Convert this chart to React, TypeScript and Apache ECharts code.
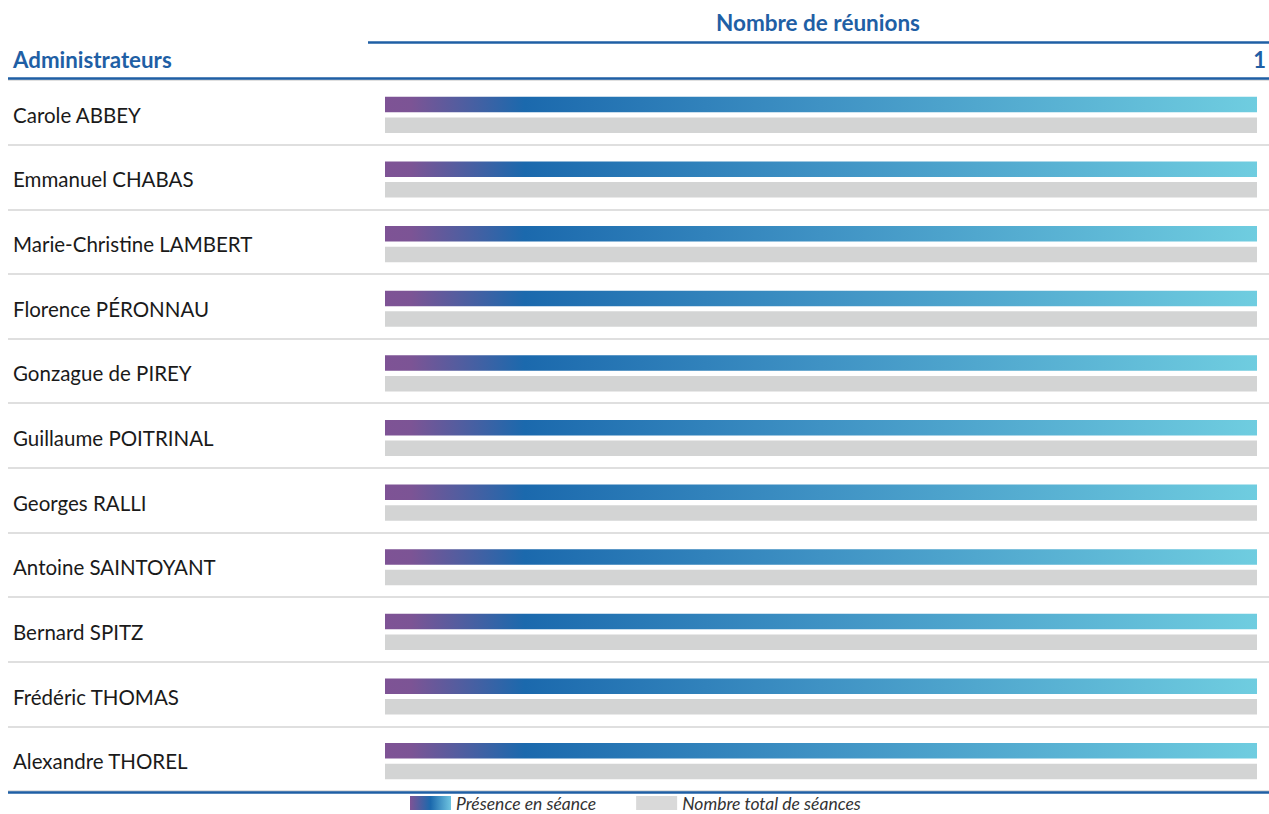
import React, { useEffect, useRef } from "react";
import * as echarts from "echarts";

const administrators = [
  "Carole ABBEY",
  "Emmanuel CHABAS",
  "Marie-Christine LAMBERT",
  "Florence PÉRONNAU",
  "Gonzague de PIREY",
  "Guillaume POITRINAL",
  "Georges RALLI",
  "Antoine SAINTOYANT",
  "Bernard SPITZ",
  "Frédéric THOMAS",
  "Alexandre THOREL",
];
const presence = [1, 1, 1, 1, 1, 1, 1, 1, 1, 1, 1];
const totalSeances = [1, 1, 1, 1, 1, 1, 1, 1, 1, 1, 1];
const maxMeetings = 1;
const headerTitle = "Nombre de réunions";
const columnTitle = "Administrateurs";
const seriesNames = ["Présence en séance", "Nombre total de séances"];

const BLUE = "#1f5fa5";
const FONT = "Lato, 'Noto Sans', sans-serif";

export default function App() {
  const ref = useRef<HTMLDivElement>(null);
  useEffect(() => {
    if (!ref.current) return;
    const chart = echarts.init(ref.current, undefined, { renderer: "svg" });
    const grad = new echarts.graphic.LinearGradient(0, 0, 1, 0, [
      { offset: 0, color: "#7e5395" },
      { offset: 0.03, color: "#7c5495" },
      { offset: 0.16, color: "#1b69ad" },
      { offset: 0.5, color: "#3f92c4" },
      { offset: 1, color: "#6fcde0" },
    ]);
    const legendGrad = new echarts.graphic.LinearGradient(0, 0, 1, 0, [
      { offset: 0, color: "#7e5395" },
      { offset: 0.5, color: "#1b69ad" },
      { offset: 1, color: "#6fc4e0" },
    ]);
    chart.setOption({
      animation: false,
      backgroundColor: "#fff",
      textStyle: { fontFamily: FONT },
      legend: {
        left: 410,
        top: 794,
        padding: 0,
        itemWidth: 41,
        itemHeight: 14,
        itemGap: 40,
        icon: "rect",
        textStyle: {
          fontSize: 17.5,
          lineHeight: 18,
          fontStyle: "italic",
          color: "#333",
          fontFamily: FONT,
        },
        data: [
          { name: seriesNames[0], itemStyle: { color: legendGrad } },
          { name: seriesNames[1], itemStyle: { color: "#d9d9d9" } },
        ],
        selectedMode: false,
      },
      grid: [
        { left: 385, right: 12, top: 82.5, bottom: 20.5 },
        { left: 8, right: 0, top: 80, bottom: 23 },
      ],
      xAxis: [
        { gridIndex: 0, type: "value", min: 0, max: maxMeetings, show: false },
        { gridIndex: 1, type: "value", min: 0, max: 1, show: false },
      ],
      yAxis: [
        {
          gridIndex: 0,
          type: "category",
          inverse: true,
          data: administrators,
          axisLine: { show: false },
          axisTick: { show: false },
          splitLine: { show: false },
          axisLabel: {
            align: "left",
            margin: 372,
            fontSize: 20.5,
            color: "#1a1a1a",
            fontFamily: FONT,
          },
        },
        {
          gridIndex: 1,
          type: "category",
          inverse: true,
          data: administrators,
          axisLine: { show: false },
          axisTick: { show: false },
          axisLabel: { show: false },
          splitLine: { show: true, lineStyle: { color: "#d4d4d4", width: 1.5 } },
        },
      ],
      series: [
        {
          name: seriesNames[0],
          type: "bar",
          xAxisIndex: 0,
          yAxisIndex: 0,
          data: presence,
          barWidth: 15.5,
          barGap: "33%",
          itemStyle: { color: grad },
        },
        {
          name: seriesNames[1],
          type: "bar",
          xAxisIndex: 0,
          yAxisIndex: 0,
          data: totalSeances,
          barWidth: 15.5,
          barGap: "33%",
          itemStyle: { color: "#d3d4d4" },
        },
      ],
      graphic: [
        {
          type: "text",
          x: 818,
          y: 22,
          style: {
            text: headerTitle,
            fontSize: 22.5,
            fontWeight: "bold",
            fill: BLUE,
            fontFamily: FONT,
            align: "center",
            verticalAlign: "middle",
          },
        },
        {
          type: "line",
          z: 100,
          shape: { x1: 368, y1: 42.5, x2: 1269, y2: 42.5 },
          style: { stroke: BLUE, lineWidth: 2.5 },
        },
        {
          type: "text",
          x: 13,
          y: 59,
          style: {
            text: columnTitle,
            fontSize: 22.3,
            fontWeight: "bold",
            fill: BLUE,
            fontFamily: FONT,
            align: "left",
            verticalAlign: "middle",
          },
        },
        {
          type: "text",
          x: 1266,
          y: 59,
          style: {
            text: String(maxMeetings),
            fontSize: 22,
            fontWeight: "bold",
            fill: BLUE,
            fontFamily: FONT,
            align: "right",
            verticalAlign: "middle",
          },
        },
        {
          type: "line",
          z: 100,
          shape: { x1: 8, y1: 78.5, x2: 1269, y2: 78.5 },
          style: { stroke: BLUE, lineWidth: 2.5 },
        },
        {
          type: "line",
          z: 100,
          shape: { x1: 8, y1: 792.5, x2: 1269, y2: 792.5 },
          style: { stroke: BLUE, lineWidth: 2.5 },
        },
      ],
    });
    return () => chart.dispose();
  }, []);
  return (
    <div
      ref={ref}
      style={{ position: "absolute", left: 0, top: 0, width: 1269, height: 814 }}
    />
  );
}
